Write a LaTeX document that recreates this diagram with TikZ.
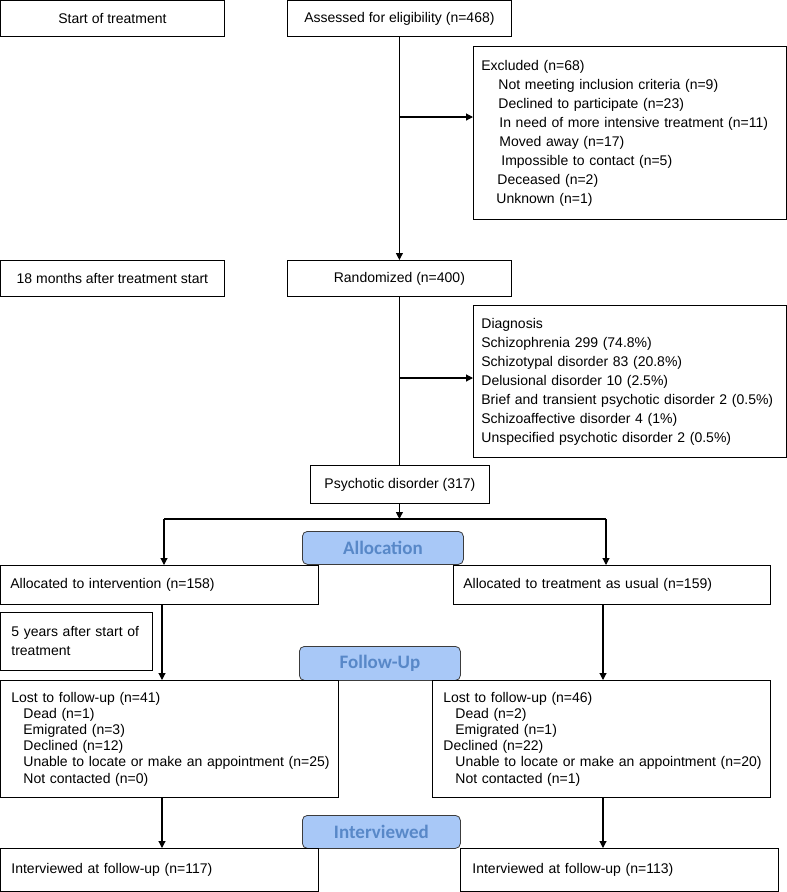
\documentclass[tikz,border=0pt]{standalone}
\usepackage{fontspec}
\setmainfont{Liberation Sans}
\newfontfamily\bannerfont{Carlito}
\usetikzlibrary{arrows.meta}

\definecolor{bannerfill}{RGB}{168,200,247}
\definecolor{bannertext}{RGB}{88,136,200}
\definecolor{bannerline}{RGB}{60,60,60}

\tikzset{
  cbox/.style={draw=black, line width=0.8pt, anchor=north west, inner sep=0pt, align=center,
    font=\fontsize{14}{19}\selectfont},
  lbox/.style={draw=black, line width=0.8pt, anchor=north west, inner ysep=0pt, inner xsep=10pt, align=left,
    font=\fontsize{14}{19}\selectfont},
  banner/.style={draw=bannerline, line width=0.8pt, fill=bannerfill, rounded corners=5pt, anchor=north west,
    inner sep=0pt, text=bannertext, font=\bannerfont\bfseries\fontsize{19}{21}\selectfont},
  arr/.style={line width=1.1pt, -{Triangle[length=7pt,width=7pt]}},
  line/.style={line width=1.1pt}
}

\begin{document}
\begin{tikzpicture}[x=1pt,y=-1pt]
\useasboundingbox (0,0) rectangle (787,892);

\node[cbox, minimum width=224pt, minimum height=36pt] (start) at (0,0) {Start of treatment};
\node[cbox, minimum width=224pt, minimum height=36pt] (assess) at (287,0) {Assessed for eligibility (n=468)};
\node[lbox, inner xsep=8pt, text width=297pt, minimum height=173pt] (excl) at (473,46)
  {Excluded (n=68)\\
   \hspace*{17pt}Not meeting inclusion criteria (n=9)\\
   \hspace*{17pt}Declined to participate (n=23)\\
   \hspace*{18pt}In need of more intensive treatment (n=11)\\
   \hspace*{18pt}Moved away (n=17)\\
   \hspace*{20pt}Impossible to contact (n=5)\\
   \hspace*{16pt}Deceased (n=2)\\
   \hspace*{15pt}Unknown (n=1)};

\node[cbox, minimum width=224pt, minimum height=36pt] (month18) at (0,260) {18 months after treatment start};
\node[cbox, minimum width=224pt, minimum height=36pt] (rand) at (287,260) {Randomized (n=400)};
\node[lbox, inner xsep=8pt, text width=297pt, minimum height=152pt] (diag) at (473,305)
  {Diagnosis\\
   Schizophrenia 299 (74.8\%)\\
   Schizotypal disorder 83 (20.8\%)\\
   Delusional disorder 10 (2.5\%)\\
   Brief and transient psychotic disorder 2 (0.5\%)\\
   Schizoaffective disorder 4 (1\%)\\
   Unspecified psychotic disorder 2 (0.5\%)};

\node[cbox, minimum width=179pt, minimum height=38pt] (psych) at (310,465) {Psychotic disorder (317)};

\node[banner, minimum width=161pt, minimum height=33pt] (allocation) at (302,531) {Allocation};
\node[lbox, text width=298pt, minimum height=39pt] (allocint) at (0,565) {Allocated to intervention (n=158)};
\node[lbox, text width=297pt, minimum height=39pt] (alloctau) at (453,565) {Allocated to treatment as usual (n=159)};

\node[lbox, inner xsep=11pt, text width=130pt, minimum height=58pt] (year5) at (0,612)
  {5 years after start of\\treatment};

\node[banner, minimum width=161pt, minimum height=34pt] (followup) at (299,646) {Follow-Up};
\node[lbox, inner xsep=11pt, text width=316pt, minimum height=117pt, font=\fontsize{14}{16.2}\selectfont] (lostint) at (0,680)
  {Lost to follow-up (n=41)\\
   \hspace*{12pt}Dead (n=1)\\
   \hspace*{12pt}Emigrated (n=3)\\
   \hspace*{12pt}Declined (n=12)\\
   \hspace*{12pt}\mbox{Unable to locate or make an appointment (n=25)}\\
   \hspace*{12pt}Not contacted (n=0)};
\node[lbox, inner xsep=11pt, text width=316pt, minimum height=117pt, font=\fontsize{14}{16.2}\selectfont] (losttau) at (432,680)
  {Lost to follow-up (n=46)\\
   \hspace*{12pt}Dead (n=2)\\
   \hspace*{12pt}Emigrated (n=1)\\
   Declined (n=22)\\
   \hspace*{12pt}\mbox{Unable to locate or make an appointment (n=20)}\\
   \hspace*{12pt}Not contacted (n=1)};

\node[banner, minimum width=158pt, minimum height=33pt] (interviewed) at (302,815) {Interviewed};
\node[lbox, inner xsep=11pt, text width=296pt, minimum height=43pt] (intvint) at (0,848) {Interviewed at follow-up (n=117)};
\node[lbox, inner xsep=12pt, text width=294pt, minimum height=43pt] (intvtau) at (460,848) {Interviewed at follow-up (n=113)};

\coordinate (exclsplit) at (399,117);
\coordinate (diagsplit) at (399,378);
\coordinate (branchl) at (164,519);
\coordinate (branchr) at (606,519);
\coordinate (colint) at (162,0);
\coordinate (coltau) at (603,0);

\draw[arr] (assess.south) -- (assess.south |- rand.north);
\draw[arr] (exclsplit) -- (exclsplit -| excl.west);
\draw[line] (rand.south) -- (rand.south |- psych.north);
\draw[arr] (diagsplit) -- (diagsplit -| diag.west);
\draw[line] (branchl) -- (branchr);
\draw[arr] (rand.south |- psych.south) -- (rand.south |- branchl);
\draw[arr] (branchl) -- (branchl |- allocint.north);
\draw[arr] (branchr) -- (branchr |- alloctau.north);
\draw[arr] (colint |- allocint.south) -- (colint |- lostint.north);
\draw[arr] (coltau |- alloctau.south) -- (coltau |- losttau.north);
\draw[arr] (colint |- lostint.south) -- (colint |- intvint.north);
\draw[arr] (coltau |- losttau.south) -- (coltau |- intvtau.north);
\end{tikzpicture}
\end{document}
